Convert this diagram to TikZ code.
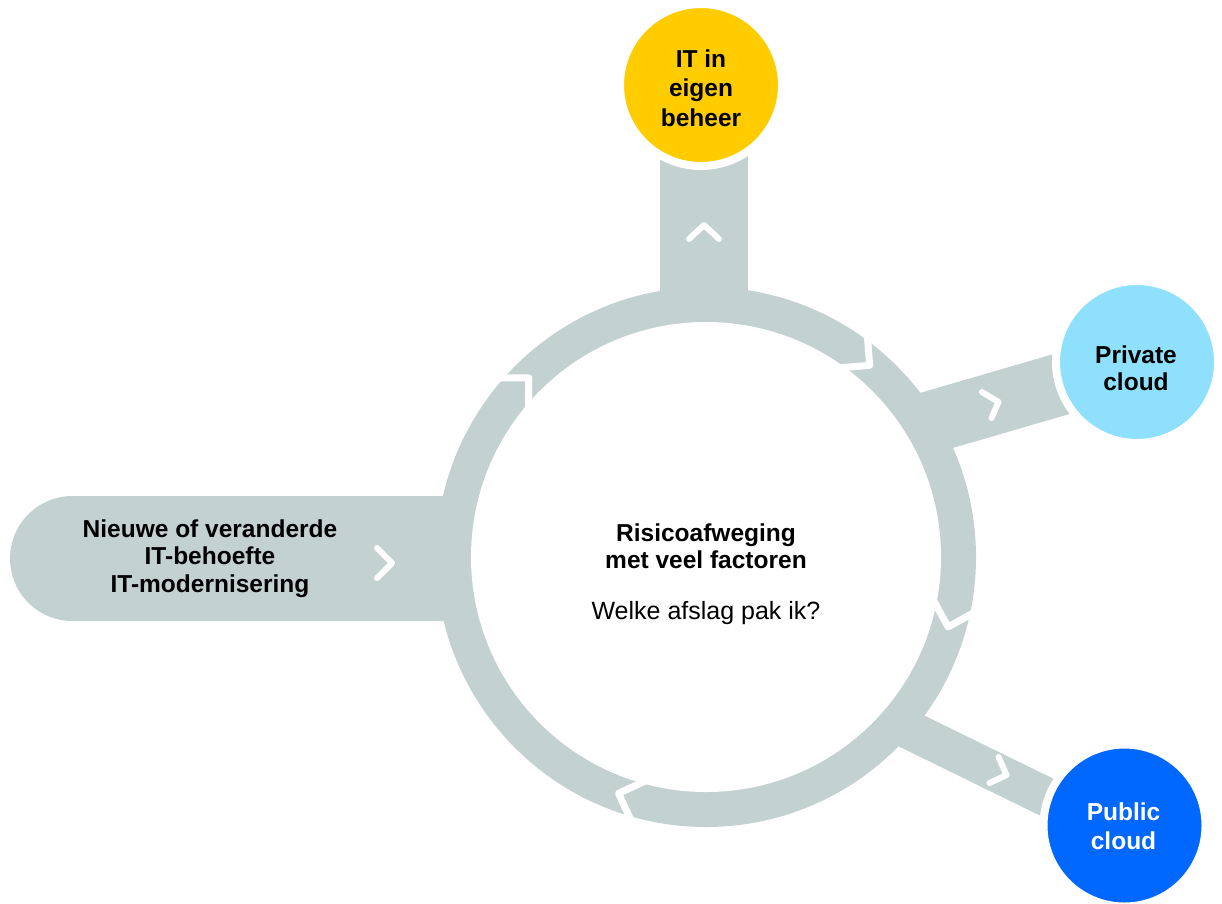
\documentclass[tikz,border=0pt]{standalone}
\usepackage{fontspec}
\setmainfont{Liberation Sans}
\definecolor{ringgray}{HTML}{C4D1D1}
\definecolor{ityellow}{HTML}{FFCC00}
\definecolor{privblue}{HTML}{8EE0FC}
\definecolor{pubblue}{HTML}{0068FF}
\newcommand{\ringbreak}[1]{%
  \draw[brk] ({706+252*cos(#1)+22*(-sin(#1)+cos(#1))}, {557-(252*sin(#1)+22*(cos(#1)+sin(#1)))})
    -- ({706+252*cos(#1)}, {557-252*sin(#1)})
    -- ({706+252*cos(#1)+22*(-sin(#1)-cos(#1))}, {557-(252*sin(#1)+22*(cos(#1)-sin(#1)))});}
\begin{document}
\begin{tikzpicture}[x=1pt,y=-1pt,
  brk/.style={draw=white,line width=7pt,line join=round},
  chev/.style={draw=white,line width=6pt,line cap=round,line join=round},
  bubble/.style={circle,draw=white,line width=8pt,minimum size=162pt,inner sep=0pt},
  lbl/.style={align=center,font=\fontsize{24.5}{27.5}\selectfont\bfseries}]
\useasboundingbox (0,0) rectangle (1222,903);
% ring and bars
\fill[ringgray] (706,557) circle (270);
\fill[ringgray] (660,120) rectangle (748,557);
\fill[ringgray, rounded corners=62.5pt] (10,496) rectangle (706,621);
\draw[ringgray, line width=62pt] (835,450) -- (1137,362);
\draw[ringgray, line width=39pt] (833,692.5) -- (1124,835);
\fill[white] (706,557) circle (235);
% ring breaks (chevrons pointing clockwise)
\ringbreak{134.7}
\ringbreak{49.5}
\ringbreak{-16.1}
\ringbreak{-110.3}
% chevrons on the bars
\draw[chev] (689,239) -- (704,225) -- (719,239);
\draw[chev] (377,548) -- (392,563) -- (377,578);
\draw[chev] (982,392) -- (998.5,402) -- (991.5,418);
\draw[chev] (998.5,757) -- (1006.5,775) -- (989.5,783);
% end nodes
\node[bubble, fill=ityellow] (own) at (701,85) {};
\node[bubble, fill=privblue] (priv) at (1137,362) {};
\node[bubble, fill=pubblue] (pub) at (1124.5,825.5) {};
\node[lbl, font=\fontsize{24.5}{29.5}\selectfont\bfseries] (ownt) at (701,88) {IT in\\eigen\\beheer};
\node[lbl] (privt) at (1136,368) {Private\\cloud};
\node[lbl, text=white, font=\fontsize{24.5}{29}\selectfont\bfseries] (pubt) at (1123.5,826.5) {Public\\cloud};
% texts
\node[lbl] (start) at (210,558.5) {Nieuwe of veranderde\\IT-behoefte\\IT-modernisering};
\node[lbl] (q) at (706,546) {Risicoafweging\\met veel factoren};
\node[font=\fontsize{25}{28}\selectfont] (ask) at (706,613) {Welke afslag pak ik?};
\end{tikzpicture}
\end{document}
